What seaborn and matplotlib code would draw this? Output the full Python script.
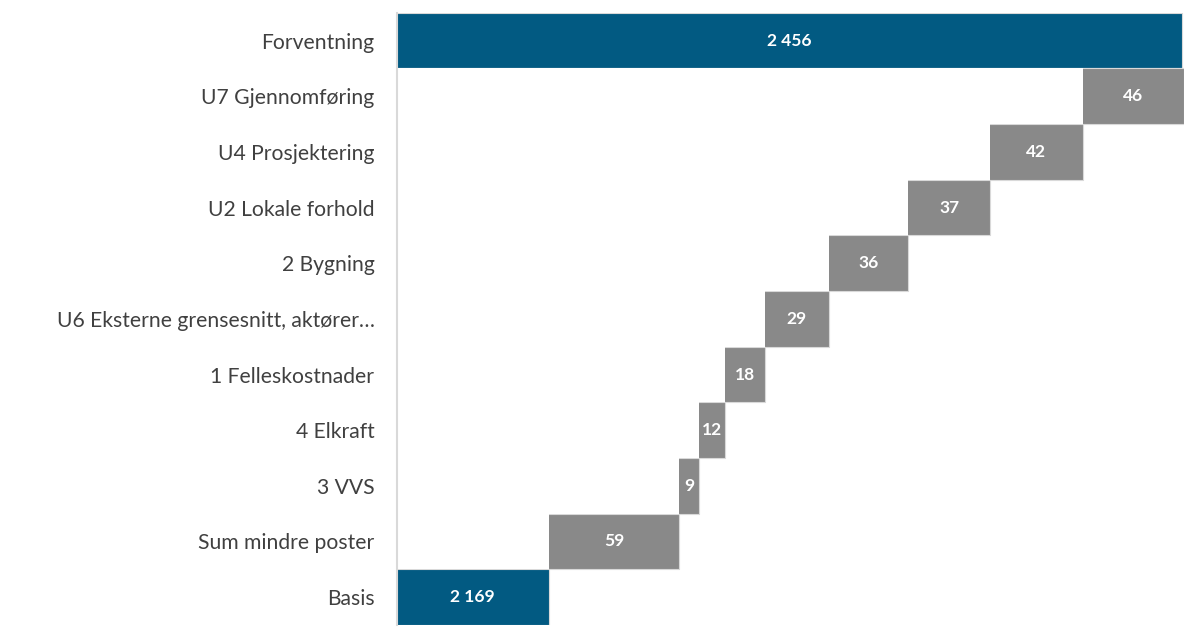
import matplotlib
matplotlib.use("Agg")
import matplotlib.pyplot as plt
import numpy as np
import pandas as pd
import seaborn as sns

categories = [
    "Forventning",
    "U7 Gjennomføring",
    "U4 Prosjektering",
    "U2 Lokale forhold",
    "2 Bygning",
    "U6 Eksterne grensesnitt, aktører…",
    "1 Felleskostnader",
    "4 Elkraft",
    "3 VVS",
    "Sum mindre poster",
    "Basis",
]
values = [2456, 46, 42, 37, 36, 29, 18, 12, 9, 59, 2169]
is_total = [True, False, False, False, False, False, False, False, False, False, True]

BLUE = "#025a82"
GREY = "#898989"

# waterfall: walk from the bottom (Basis) upwards
starts, ends = [], []
running = 0
for val, tot in zip(values[::-1], is_total[::-1]):
    if tot:
        starts.append(0)
        ends.append(val)
        running = val
    else:
        starts.append(running)
        ends.append(running + val)
        running += val
starts = starts[::-1]
ends = ends[::-1]

df = pd.DataFrame({"category": categories, "start": starts, "end": ends, "value": values})
palette = [BLUE if t else GREY for t in is_total]

sns.set_theme(style="white")
plt.rcParams["font.family"] = ["Lato", "DejaVu Sans"]

fig = plt.figure(figsize=(12.02, 6.39), dpi=100)
ax = fig.add_axes([0.330, 0.022, 0.655, 0.958])

sns.barplot(data=df, x="end", y="category", hue="category", palette=palette,
            legend=False, width=1.0, saturation=1, edgecolor="#d9d9d9",
            linewidth=0.8, orient="h", ax=ax)
sns.barplot(data=df, x="start", y="category", color="white", width=1.0,
            saturation=1, linewidth=0, orient="h", ax=ax)

for i, row in df.iterrows():
    mid = (max(row["start"], 2100) + row["end"]) / 2
    label = f"{row['value']:,}".replace(",", " ")
    ax.text(mid, i, label, ha="center", va="center", color="white",
            fontsize=12.5, fontweight="bold")

ax.set_xlim(2100, 2457)
ax.set_ylim(len(categories) - 0.5, -0.5)
ax.set_xlabel("")
ax.set_ylabel("")
ax.set_xticks([])
ax.tick_params(axis="y", length=0, pad=16, labelsize=15.2, labelcolor="#404040")
for side in ["top", "right", "bottom"]:
    ax.spines[side].set_visible(False)
ax.spines["left"].set_color("#d9d9d9")
ax.spines["left"].set_linewidth(1.5)

fig.savefig("out.png", dpi=100)
